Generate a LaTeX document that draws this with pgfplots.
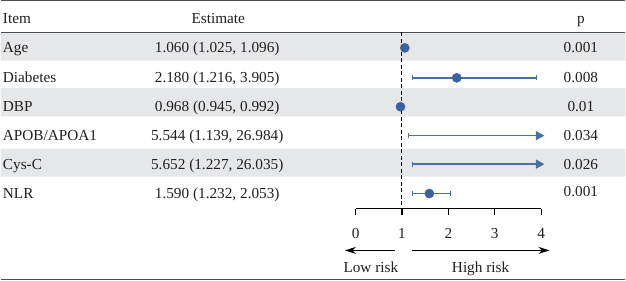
\documentclass[border=0pt]{standalone}
\usepackage{pgfplots}
\pgfplotsset{compat=1.18}
\usepackage{fontspec}
\setmainfont{Liberation Serif}
\usetikzlibrary{arrows.meta}
\definecolor{band}{HTML}{E6E7E8}
\definecolor{rule}{HTML}{4D4D4D}
\definecolor{dotblue}{HTML}{3B62A0}
\definecolor{lineblue}{HTML}{4A6FA5}
\definecolor{textcol}{HTML}{231F20}
\newcommand\tf{\fontsize{15.3bp}{18bp}\selectfont}
\tikzset{tt/.style={font=\tf, text=textcol, inner sep=0pt}}
\begin{document}
\begin{tikzpicture}
\begin{axis}[
  name=main, at={(0,0)}, anchor=south west,
  scale only axis, width=626bp, height=281bp,
  xmin=-7.6495, xmax=5.8129, ymin=0, ymax=281, y dir=reverse,
  axis lines=none, clip=false,
]
\path (axis cs:-7.6495,0) rectangle (axis cs:5.8129,281);
% shaded bands
\addplot[fill=band, draw=none] coordinates {(-7.6495,32.5)(5.8129,32.5)(5.8129,60.7)(-7.6495,60.7)(-7.6495,32.5)};
\addplot[fill=band, draw=none] coordinates {(-7.6495,88.3)(5.8129,88.3)(5.8129,116.7)(-7.6495,116.7)(-7.6495,88.3)};
\addplot[fill=band, draw=none] coordinates {(-7.6495,149)(5.8129,149)(5.8129,177)(-7.6495,177)(-7.6495,149)};
% rules
\addplot[rule, line width=1.5bp] coordinates {(-7.6495,0.75)(5.8129,0.75)};
\addplot[rule, line width=1bp] coordinates {(-7.6495,32.5)(5.8129,32.5)};
\addplot[rule, line width=1.5bp] coordinates {(-7.6495,280.2)(5.8129,280.2)};
% reference line
\addplot[black, line width=1bp, dash pattern=on 4bp off 2.5bp] coordinates {(1,32.5)(1,209)};
% confidence intervals
\addplot[lineblue, line width=1.4bp, mark=|, mark size=2.6bp, mark options={solid, line width=1bp}] coordinates {(1.025,48)(1.096,48)};
\addplot[lineblue, line width=1.4bp, mark=|, mark size=2.6bp, mark options={solid, line width=1bp}] coordinates {(1.216,78)(3.905,78)};
\addplot[lineblue, line width=1.4bp, mark=|, mark size=2.6bp, mark options={solid, line width=1bp}] coordinates {(0.945,107)(0.992,107)};
\addplot[lineblue, line width=1.4bp, mark=|, mark size=2.6bp, mark indices={1}, mark options={solid, line width=1bp}, -{Triangle[length=8.5bp, width=9bp]}] coordinates {(1.139,136)(4.07,136)};
\addplot[lineblue, line width=1.4bp, mark=|, mark size=2.6bp, mark indices={1}, mark options={solid, line width=1bp}, -{Triangle[length=8.5bp, width=9bp]}] coordinates {(1.227,164.5)(4.07,164.5)};
\addplot[lineblue, line width=1.4bp, mark=|, mark size=2.6bp, mark options={solid, line width=1bp}] coordinates {(1.232,194)(2.053,194)};
% point estimates
\addplot[only marks, mark=*, mark size=4.6bp, dotblue, mark options={draw=dotblue, fill=dotblue}] coordinates {(1.060,48)(2.180,78)(0.968,107)(1.590,194)};
% table text
\node[tt, anchor=base west] at (axis cs:-7.6065,23.3) {Item};
\node[tt, anchor=base] at (axis cs:-2.9613,23.3) {Estimate};
\node[tt, anchor=base] at (axis cs:4.8559,23.3) {p};
\node[tt, anchor=base west] at (axis cs:-7.6065,53) {Age};
\node[tt, anchor=base west] at (axis cs:-7.6065,83) {Diabetes};
\node[tt, anchor=base west] at (axis cs:-7.6065,112) {DBP};
\node[tt, anchor=base west] at (axis cs:-7.6065,141) {APOB/APOA1};
\node[tt, anchor=base west] at (axis cs:-7.6065,169.5) {Cys-C};
\node[tt, anchor=base west] at (axis cs:-7.6065,199) {NLR};
\node[tt, anchor=base] at (axis cs:-2.9828,53) {1.060 (1.025, 1.096)};
\node[tt, anchor=base] at (axis cs:-2.9828,83) {2.180 (1.216, 3.905)};
\node[tt, anchor=base] at (axis cs:-2.9828,112) {0.968 (0.945, 0.992)};
\node[tt, anchor=base] at (axis cs:-2.9828,141) {5.544 (1.139, 26.984)};
\node[tt, anchor=base] at (axis cs:-2.9828,169.5) {5.652 (1.227, 26.035)};
\node[tt, anchor=base] at (axis cs:-2.9828,199) {1.590 (1.232, 2.053)};
\node[tt, anchor=base] at (axis cs:4.8559,53) {0.001};
\node[tt, anchor=base] at (axis cs:4.8559,83) {0.008};
\node[tt, anchor=base] at (axis cs:4.8559,112) {0.01};
\node[tt, anchor=base] at (axis cs:4.8559,141) {0.034};
\node[tt, anchor=base] at (axis cs:4.8559,169.5) {0.026};
\node[tt, anchor=base] at (axis cs:4.8559,197) {0.001};
% risk arrows
\addplot[black, line width=1.2bp, -{Stealth[length=11bp, width=7bp]}] coordinates {(0.845,251)(-0.230,251)};
\addplot[black, line width=1.2bp, -{Stealth[length=11bp, width=7bp]}] coordinates {(1.211,251)(4.178,251)};
\node[tt, anchor=base] at (axis cs:0.329,273.5) {Low risk};
\node[tt, anchor=base] at (axis cs:2.6946,273.5) {High risk};
\coordinate (scaleorigin) at (axis cs:0,209);
\end{axis}
\begin{axis}[
  at={(scaleorigin)}, anchor=south west,
  scale only axis, width=186bp, height=1bp,
  xmin=0, xmax=4, ymin=0, ymax=1,
  axis x line=bottom, axis y line=none,
  x axis line style={-, line width=1.1bp, black},
  xtick={0,1,2,3,4}, xticklabels={0,1,2,3,4},
  tick align=outside, major tick length=7bp,
  tick style={black, line width=1.1bp},
  xticklabel style={font=\tf, text=textcol, anchor=base, yshift=-23bp},
]
\addplot[draw=none] coordinates {(0,0)(4,1)};
\end{axis}
\end{tikzpicture}
\end{document}
